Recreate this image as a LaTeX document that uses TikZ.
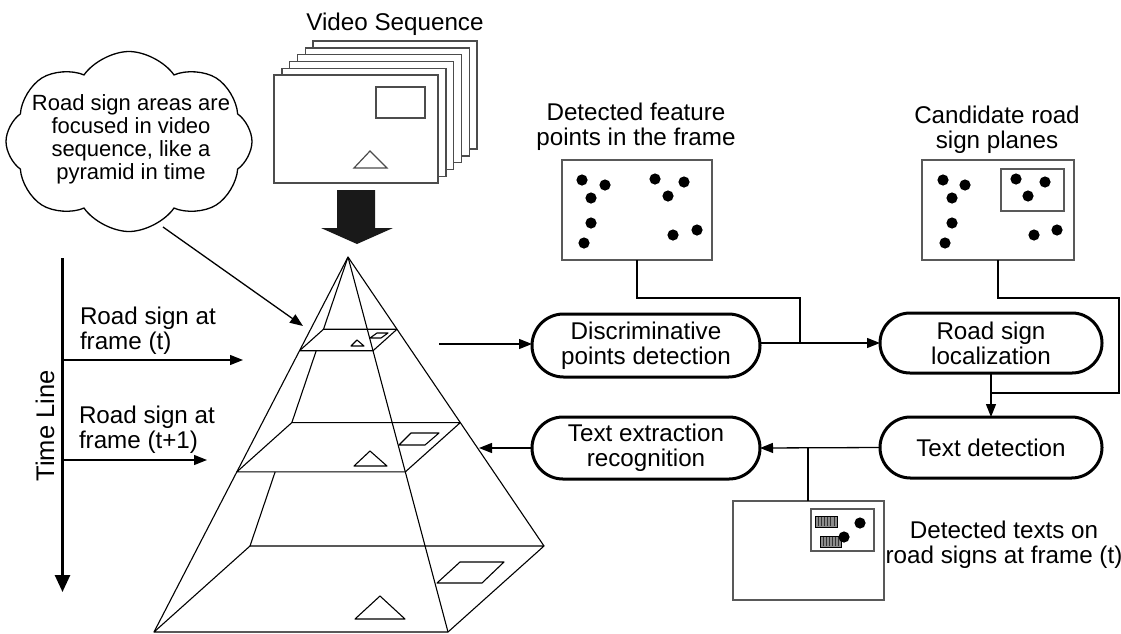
\documentclass[tikz,border=0pt]{standalone}
\usepackage{fontspec}
\setmainfont{Liberation Sans}
\usetikzlibrary{arrows.meta,shapes.misc,shapes.symbols,calc}
\begin{document}
\begin{tikzpicture}[x=1pt,y=-1pt,
  every node/.style={inner sep=0pt,outer sep=0pt},
  txt/.style={font=\fontsize{24.2}{25}\selectfont,align=center},
  ctxt/.style={font=\fontsize{22}{23}\selectfont,align=center},
  frm/.style={draw=black!70,line width=1.4pt,fill=white,minimum width=164pt,minimum height=108pt},
  picbox/.style={draw=black!65,line width=1.4pt,fill=white},
  flowbox/.style={rounded rectangle,draw,line width=3pt,txt},
  pyr/.style={line width=1.1pt,line join=round},
  conn/.style={line width=1.3pt},
  arr/.style={conn,-{Triangle[length=13pt,width=10pt]}},
]
\useasboundingbox (0,0) rectangle (1121,633);

% ---------- video frames ----------
\node[txt] (vlabel) at (395,24) {Video Sequence};
\foreach \i in {5,4,3,2,1,0}
  \node[frm] (f\i) at ({356+7.8*\i},{129-6.8*\i}) {};
\draw[black!70,line width=1.4pt] (376,87) rectangle (425,118);
\draw[black!70,line width=1.2pt] (370,151) -- (354,168) -- (387,168) -- cycle;
% big down arrow
\fill[black!90] (337,190) -- (375,190) -- (375,228) -- (393,228) -- (357,244)
  -- (321,228) -- (337,228) -- cycle;

% ---------- cloud ----------
\node[cloud,draw,line width=1.3pt,cloud puffs=8,cloud puff arc=110,cloud ignores aspect,
  minimum width=246pt,minimum height=180pt] (cloud) at (129,141.5) {};
\node[ctxt] (cloudtxt) at (131,139.5) {Road sign areas are\\focused in video\\sequence, like a\\pyramid in time};
\coordinate (cl0) at (163,227);
\coordinate (pyrtop) at (303,326);
\draw[arr] (cl0) -- (pyrtop);

% ---------- pyramid ----------
\coordinate (A) at (348,257);
\coordinate (BFL) at (154,632);
\coordinate (BFR) at (448,632);
\coordinate (BBR) at (544,546);
\coordinate (BBL) at (250,546);
\foreach \n/\t in {1/0.25,2/0.573}{
  \coordinate (L\n FL) at ($(A)!\t!(BFL)$);
  \coordinate (L\n FR) at ($(A)!\t!(BFR)$);
  \coordinate (L\n BR) at ($(A)!\t!(BBR)$);
  \coordinate (L\n BL) at ($(A)!\t!(BBL)$);
}
\draw[pyr] (BFL) -- (A) -- (BBR);
\draw[pyr] (A) -- (BFR);
\draw[pyr] (BFL) -- (BFR) -- (BBR) -- (BBL) -- cycle;
\draw[pyr] (L1FL) -- (L1FR) -- (L1BR) -- (L1BL) -- cycle;
\draw[pyr] (L2FL) -- (L2FR) -- (L2BR) -- (L2BL) -- cycle;
% visible parts of the rear edge
\draw[pyr] (A) -- (L1BL);
\draw[pyr] ($(A)!0.3244!(BBL)$) -- (L2BL);
\draw[pyr] ($(A)!0.7436!(BBL)$) -- (BBL);
% signs on each slice
\draw[pyr] (357,340) -- (351,346) -- (364,346) -- cycle;
\draw[pyr] (370,338) -- (381,338) -- (388,333) -- (377,333) -- cycle;
\draw[pyr] (370,451) -- (354,466) -- (387,466) -- cycle;
\draw[pyr] (399,445) -- (425,445) -- (439,433) -- (411,433) -- cycle;
\draw[pyr] (380,596) -- (355,619) -- (405,619) -- cycle;
\draw[pyr] (437,583) -- (482,583) -- (504,562) -- (460,562) -- cycle;

% ---------- time line ----------
\coordinate (tl0) at (62.5,258);
\coordinate (tl1) at (62.5,592);
\draw[line width=2.6pt,-{Triangle[length=17pt,width=15pt]}] (tl0) -- (tl1);
\node[txt,rotate=90,font=\fontsize{25.5}{26}\selectfont] (tlabel) at (45,426) {Time Line};
\node[txt,align=left,anchor=west] (lt) at (80,330.5) {Road sign at\\frame (t)};
\node[txt,align=left,anchor=west] (lt1) at (79,429.5) {Road sign at\\frame (t+1)};
\coordinate (t0a) at (62.5,360);
\coordinate (t0b) at (243,360);
\coordinate (t1a) at (62.5,460);
\coordinate (t1b) at (207,460);
\draw[arr] (t0a) -- (t0b);
\draw[arr] (t1a) -- (t1b);

% ---------- flow ----------
\node[flowbox,minimum width=228pt,minimum height=63pt] (disc) at (646,345.5) {Discriminative\\points detection};
\node[flowbox,minimum width=222pt,minimum height=60pt] (loc) at (991,343) {Road sign\\localization};
\node[flowbox,minimum width=222pt,minimum height=61pt] (tdet) at (991,447.5) {Text detection};
\node[flowbox,minimum width=228pt,minimum height=62pt] (text) at (646,448) {Text extraction\\recognition};

\coordinate (pyrout) at (439,344);
\draw[arr] (pyrout) -- (pyrout -| disc.west);
\draw[arr] (disc.east |- loc.west) -- (loc.west);
\draw[arr] (loc.south) -- (tdet.north);
\draw[arr] (tdet.west) -- (text.east);
\coordinate (pyrin) at (479,448);
\draw[arr] (text.west |- pyrin) -- (pyrin);

% ---------- feature point frame ----------
\node[txt] (b1lbl) at (636,126.5) {Detected feature\\points in the frame};
\node[picbox,minimum width=150pt,minimum height=100pt] (b1) at (637,210) {};
\foreach \p in {(582,180),(605,185),(591,198),(655,179),(684,182),(668,196),
                (591,223),(584,243),(673,235),(697,230)}
  \fill \p circle[radius=5.6];
\coordinate (j1) at (800,343);
\draw[conn] (b1.south) -- ++(0,38) -| (j1);

% ---------- candidate planes frame ----------
\node[txt] (b2lbl) at (997,129.5) {Candidate road\\sign planes};
\node[picbox,minimum width=152pt,minimum height=100pt] (b2) at (998,210) {};
\draw[black!65,line width=1.4pt] (1001,169) rectangle (1064,211);
\foreach \p in {(943,180),(965,185),(952,198),(1016,179),(1045,182),(1028,196),
                (952,223),(945,243),(1034,235),(1057,230)}
  \fill \p circle[radius=5.6];
\coordinate (j2) at (991,393);
\draw[conn] (b2.south) -- ++(0,38) -| (1119,393) -- (j2);

% ---------- detected text frame ----------
\node[picbox,minimum width=151pt,minimum height=99pt] (b3) at (808.5,550.5) {};
\draw[black!65,line width=1.3pt] (811,509) rectangle (874,551);
\foreach \x/\y/\w in {815/516/22,820/536/21}{
  \draw[fill=black!45,line width=0.8pt] (\x,\y) rectangle ++(\w,11);
  \foreach \k in {1,...,6}
    \draw[black!80,line width=0.5pt] ({\x+\k*\w/7},\y+1) -- ++(0,9);
}
\fill (860,523) circle[radius=5.6];
\fill (844,537) circle[radius=5.6];
\node[txt] (b3lbl) at (1004,544.5) {Detected texts on\\road signs at frame (t)};
\coordinate (j3) at (808,448);
\draw[conn] (b3.north -| j3) -- (j3);

\end{tikzpicture}
\end{document}
